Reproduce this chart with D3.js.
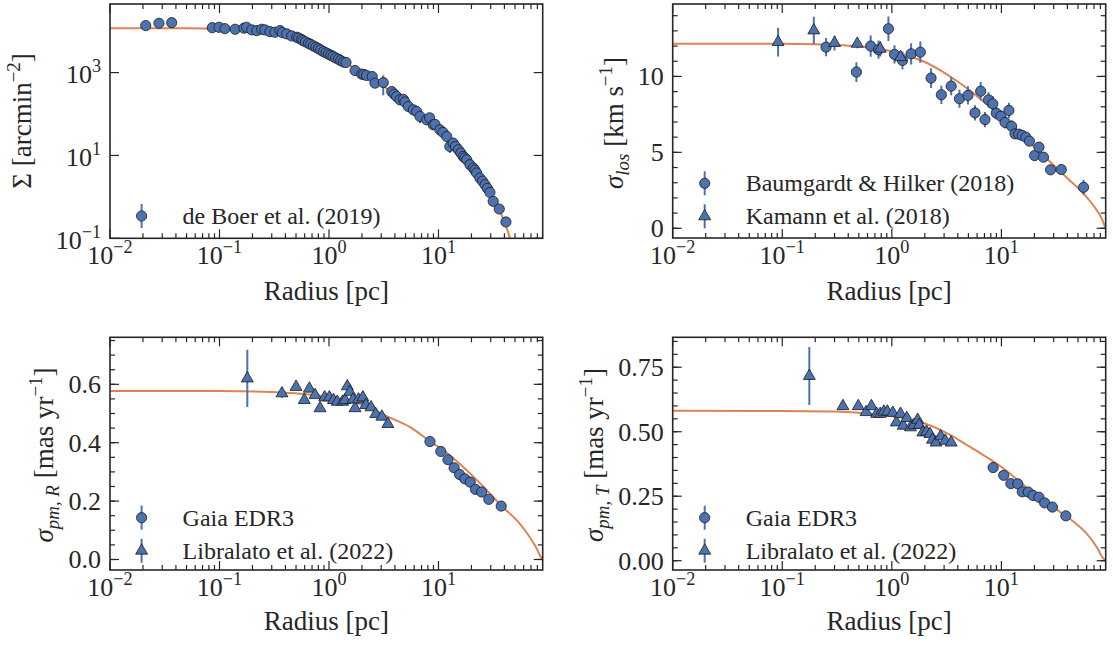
<!DOCTYPE html>
<html><head><meta charset="utf-8">
<script src="https://cdn.jsdelivr.net/npm/d3@7"></script>
<style>
body{margin:0;background:#fff}
svg{display:block}
text{font-family:"Liberation Serif","Times New Roman",serif;fill:#262626}
</style>
</head><body>
<svg id="chart" width="1113" height="646"></svg>
<script>
// ---------------- DATA ----------------
const xMajorTicks = [0.01, 0.1, 1, 10];
const xMax = 89.5;

// Panel 1: surface density (de Boer et al. 2019)
const boerR = [0.0212,0.0280,0.0366,0.0859,0.0989,0.112,0.139,0.167,0.177,0.197,0.219,0.243,0.260,0.289,0.321,0.357,0.375,0.411,0.456,0.507,0.53,0.56,0.58,0.61,0.65,0.68,0.72,0.76,0.80,0.84,0.89,0.94,0.99,1.04,1.09,1.15,1.22,1.28,1.35,1.43,1.73,1.99,2.08,2.2,2.48,2.63,3.13,3.74,3.94,4.15,4.45,4.78,4.94,5.30,5.89,6.32,6.78,7.80,8.30,8.97,9.3,10.3,11.0,11.9,12.7,13.6,14.3,15.2,16.0,16.8,17.4,18.1,19.4,20.8,21.5,22.3,23.9,25.2,26.6,28.0,29.5,31.6,35.9,41.3];
const boerS = [13600,15500,16000,12100,12400,11500,11100,11800,12400,10700,10300,11100,10700,9720,9400,10300,9200,8570,7660,7130,6800,6300,5900,5500,5100,4800,4400,4100,3800,3500,3200,3000,2800,2600,2450,2250,2100,1950,1800,1750,1120,915,900,850,800,555,574,348,300,264,220,226,194,152,126,115,87,72.4,81,54.9,56,41.6,36,28.7,16.5,19.9,16.5,13.7,11.5,9.46,8.7,7.87,5.97,4.97,4.4,3.77,2.85,2.4,1.97,1.6,1.28,0.78,0.51,0.248];
const boerErr = [0,0,3000,0,0,0,0,0,0,0,0,0,0,0,0,0,0,0,0,0,0,0,0,0,0,0,0,0,0,0,0,0,0,0,0,0,0,0,0,0,0,0,0,0,0,0,290,0,0,0,0,0,0,0,0,0,27,0,0,0,0,0,0,0,5,0,0,0,0,0,0,0,0,0,0,0,0,0,0,0,0,0,0,0];
const sigmaModelR = [0.01,0.05,0.1,0.2,0.3,0.4,0.5,0.7,1,1.5,2,3,4,5,7,10,15,20,25,30,35,40,45,50];
const sigmaModel  = [11800,11750,11500,10800,9900,8700,7500,5000,2900,1550,1000,520,290,180,88,41,14,5.4,2.4,1.15,0.56,0.25,0.1,0.03];

// Panel 2: line-of-sight dispersion
const bhR   = [0.251,0.475,0.641,0.755,0.931,1.057,1.25,1.50,1.82,2.28,2.83,3.48,4.14,4.95,5.74,6.47,7.08,7.63,8.34,8.98,9.89,10.8,11.7,12.4,13.3,14.4,15.5,16.7,18.0,20.1,22.0,24.2,28.1,35.2,56.2];
const bhV   = [11.93,10.29,12.0,11.76,13.14,11.45,11.05,11.49,11.6,9.89,8.79,9.36,8.53,8.75,7.6,9.03,7.16,8.46,8.2,7.58,7.38,6.97,7.76,6.72,6.22,6.2,6.11,6.0,5.74,4.79,5.34,4.68,3.85,3.87,2.7];
const bhErr = [0.6,0.65,0.7,0.6,0.8,0.6,0.6,0.7,0.7,0.65,0.6,0.6,0.6,0.6,0.5,0.6,0.5,0.5,0.5,0.4,0.4,0.4,0.5,0.4,0.3,0.3,0.3,0.3,0.3,0.3,0.3,0.3,0.3,0.3,0.5];
const kamR   = [0.0916,0.194,0.300,0.483,0.783,1.20];
const kamV   = [12.26,13.03,12.2,12.15,11.82,11.27];
const kamErr = [0.95,0.9,0.5,0.3,0.5,0.4];
const losModelR = [0.01,0.1,0.2,0.3,0.5,0.7,1,1.5,2,3,4,5,7,10,15,20,25,30,40,50,60,70,78,84,88,89.5];
const losModel  = [12.16,12.15,12.12,12.08,11.98,11.85,11.65,11.3,10.95,10.25,9.65,9.15,8.3,7.35,6.2,5.35,4.7,4.15,3.3,2.65,2.05,1.45,0.95,0.5,0.12,0];

// Panel 3: radial proper-motion dispersion
const gaiaRR = [8.36,10.5,12.2,13.9,15.6,17.4,19.5,21.8,24.8,28.8,37.4];
const gaiaRV = [0.404,0.370,0.342,0.314,0.291,0.276,0.265,0.240,0.231,0.206,0.183];
const gaiaRErr = [0.006,0.006,0.006,0.006,0.006,0.006,0.006,0.006,0.006,0.006,0.006];
const libRR = [0.1795,0.372,0.50,0.595,0.662,0.746,0.829,0.914,1.007,1.10,1.19,1.33,1.40,1.47,1.55,1.66,1.73,1.86,2.04,2.17,2.42,2.67,3.04,3.45];
const libRV = [0.62,0.569,0.591,0.546,0.585,0.563,0.518,0.555,0.555,0.546,0.540,0.540,0.546,0.593,0.574,0.548,0.518,0.548,0.555,0.529,0.521,0.498,0.489,0.464];
const libRErr = [0.098,0.015,0.01,0.01,0.01,0.01,0.01,0.01,0.01,0.01,0.01,0.01,0.01,0.01,0.01,0.01,0.01,0.01,0.01,0.01,0.01,0.01,0.01,0.01];
const pmRModelR = [0.01,0.1,0.3,0.5,0.8,1.2,2,3.4,5.7,8.4,12.2,17.8,25.6,37.8,54,63,73,80,85,89.5];
const pmRModel  = [0.577,0.577,0.574,0.569,0.562,0.552,0.530,0.490,0.450,0.404,0.362,0.308,0.250,0.183,0.127,0.095,0.059,0.033,0.012,0];

// Panel 4: tangential proper-motion dispersion
const gaiaTR = [8.40,10.5,12.2,14.1,15.5,17.6,19.4,22.0,24.8,29.2,38.7];
const gaiaTV = [0.361,0.331,0.299,0.298,0.267,0.266,0.253,0.246,0.224,0.208,0.174];
const gaiaTErr = [0.006,0.006,0.006,0.006,0.006,0.006,0.006,0.006,0.006,0.006,0.006];
const libTR = [0.1766,0.358,0.494,0.582,0.651,0.728,0.784,0.845,0.910,1.02,1.10,1.20,1.27,1.37,1.48,1.59,1.72,1.78,1.92,2.07,2.23,2.35,2.53,2.79,3.07,3.48];
const libTV = [0.716,0.599,0.599,0.576,0.599,0.569,0.569,0.578,0.578,0.573,0.536,0.569,0.523,0.553,0.517,0.526,0.546,0.526,0.497,0.500,0.491,0.469,0.458,0.482,0.465,0.458];
const libTErr = [0.112,0.015,0.01,0.01,0.01,0.01,0.01,0.01,0.01,0.01,0.01,0.01,0.01,0.01,0.01,0.01,0.01,0.01,0.01,0.01,0.01,0.01,0.01,0.01,0.01,0.01];
const pmTModelR = [0.01,0.1,0.3,0.5,0.8,1.2,2,3.4,5,7.1,10,15,22,31.4,46,58,67,76,82,89.5];
const pmTModel  = [0.581,0.580,0.578,0.574,0.566,0.555,0.532,0.488,0.445,0.405,0.363,0.303,0.245,0.200,0.150,0.112,0.080,0.045,0.018,0];

// ---------------- STYLE ----------------
const BLUE = "#4C72B0", ORANGE = "#DD8452", EDGE = "#1a1a1a", AX = "#262626";
const TICK_FS = 26, LABEL_FS = 27, LEG_FS = 24;

const svg = d3.select("#chart");
svg.append("rect").attr("width",1113).attr("height",646).attr("fill","#fff");

function rich(sel, parts, fs){
  let shift = 0;
  parts.forEach(p => {
    const [t, mode, it] = p;
    let target = 0, size = fs;
    if (mode === "sup"){ target = -0.42*fs; size = 0.7*fs; }
    else if (mode === "sub"){ target = 0.24*fs; size = 0.7*fs; }
    const ts = sel.append("tspan").text(t).attr("font-size", size).attr("dy", target - shift);
    if (it) ts.attr("font-style","italic");
    shift = target;
  });
}
function powParts(v){
  const e = Math.round(Math.log10(v));
  return [["10"],[(e<0?"\u2212":"")+Math.abs(e),"sup"]];
}

const zip = (a,b) => a.map((d,i)=>[d,b[i]]);
let clipId = 0;

function drawPanel(cfg){
  const g = svg.append("g");
  const x = d3.scaleLog().domain([0.01, xMax]).range([cfg.x0, cfg.x1]);
  const y = (cfg.ylog ? d3.scaleLog() : d3.scaleLinear()).domain(cfg.ydom).range([cfg.y1, cfg.y0]);
  const id = "clip" + (clipId++);
  svg.append("clipPath").attr("id", id).append("rect")
    .attr("x", cfg.x0).attr("y", cfg.y0).attr("width", cfg.x1-cfg.x0).attr("height", cfg.y1-cfg.y0);
  const plot = g.append("g").attr("clip-path", `url(#${id})`);

  // model curve
  const line = d3.line().x(d=>x(d[0])).y(d=>y(Math.max(d[1], cfg.ylog?1e-6:-1))).curve(d3.curveMonotoneX);
  plot.append("path").datum(zip(cfg.modelR, cfg.modelV))
    .attr("d", line).attr("fill","none").attr("stroke",ORANGE).attr("stroke-width",2);

  // series
  cfg.series.forEach(s => {
    const pts = s.r.map((r,i)=>({r, v:s.v[i], e:s.e[i]}));
    plot.append("g").selectAll("line").data(pts.filter(d=>d.e>0)).join("line")
      .attr("x1",d=>x(d.r)).attr("x2",d=>x(d.r))
      .attr("y1",d=>y(d.v+d.e)).attr("y2",d=>y(Math.max(d.v-d.e, cfg.ylog?1e-6:-10)))
      .attr("stroke",BLUE).attr("stroke-width",2);
  });
  cfg.series.forEach(s => {
    const pts = s.r.map((r,i)=>({r, v:s.v[i]}));
    const sym = d3.symbol().type(s.shape==="tri"?d3.symbolTriangle:d3.symbolCircle).size(s.shape==="tri"?62:82);
    plot.append("g").selectAll("path").data(pts).join("path")
      .attr("transform",d=>`translate(${x(d.r)},${y(d.v)})`)
      .attr("d", sym).attr("fill",BLUE).attr("stroke",EDGE).attr("stroke-width",0.8);
  });

  // frame
  g.append("rect").attr("x",cfg.x0).attr("y",cfg.y0).attr("width",cfg.x1-cfg.x0).attr("height",cfg.y1-cfg.y0)
    .attr("fill","none").attr("stroke",AX).attr("stroke-width",1.6);

  // x ticks
  const xt = x.ticks().filter(v=>v>=0.01 && v<=xMax);
  xt.forEach(v => {
    const isMajor = xMajorTicks.some(m=>Math.abs(m-v)/m<1e-6);
    const L = isMajor ? 9 : 5;
    const px = x(v);
    g.append("line").attr("x1",px).attr("x2",px).attr("y1",cfg.y1).attr("y2",cfg.y1-L).attr("stroke",AX).attr("stroke-width",1.2);
    g.append("line").attr("x1",px).attr("x2",px).attr("y1",cfg.y0).attr("y2",cfg.y0+L).attr("stroke",AX).attr("stroke-width",1.2);
  });
  xMajorTicks.forEach(v => {
    const t = g.append("text").attr("x", x(v)).attr("y", cfg.y1+26).attr("text-anchor","middle").attr("font-size",TICK_FS);
    rich(t, powParts(v), TICK_FS);
  });

  // y ticks
  cfg.yMinor.forEach(v => {
    const py = y(v);
    g.append("line").attr("x1",cfg.x0).attr("x2",cfg.x0+5).attr("y1",py).attr("y2",py).attr("stroke",AX).attr("stroke-width",1.2);
    g.append("line").attr("x1",cfg.x1).attr("x2",cfg.x1-5).attr("y1",py).attr("y2",py).attr("stroke",AX).attr("stroke-width",1.2);
  });
  cfg.yMajor.forEach((v,i) => {
    const py = y(v);
    g.append("line").attr("x1",cfg.x0).attr("x2",cfg.x0+9).attr("y1",py).attr("y2",py).attr("stroke",AX).attr("stroke-width",1.2);
    g.append("line").attr("x1",cfg.x1).attr("x2",cfg.x1-9).attr("y1",py).attr("y2",py).attr("stroke",AX).attr("stroke-width",1.2);
    const t = g.append("text").attr("x", cfg.x0-9).attr("y", py + 0.34*TICK_FS + (cfg.ylog?2:0))
      .attr("text-anchor","end").attr("font-size",TICK_FS);
    if (cfg.ylog) rich(t, powParts(v), TICK_FS); else t.text(cfg.yLabels[i]);
  });

  // axis labels
  g.append("text").attr("x",(cfg.x0+cfg.x1)/2).attr("y",cfg.xlabY).attr("text-anchor","middle")
    .attr("font-size",LABEL_FS).text("Radius [pc]");
  const yl = g.append("text").attr("transform",`translate(${cfg.ylabX},${cfg.ylabCY}) rotate(-90)`)
    .attr("text-anchor","middle").attr("font-size",LABEL_FS);
  rich(yl, cfg.ylabParts, LABEL_FS);

  // legend
  cfg.legend.forEach((L,i) => {
    const ly = cfg.legY + i*33;
    const lx = cfg.legX;
    g.append("line").attr("x1",lx).attr("x2",lx).attr("y1",ly-12).attr("y2",ly+12).attr("stroke",BLUE).attr("stroke-width",2);
    const sym = d3.symbol().type(L.shape==="tri"?d3.symbolTriangle:d3.symbolCircle).size(L.shape==="tri"?62:82);
    g.append("path").attr("transform",`translate(${lx},${ly})`).attr("d",sym).attr("fill",BLUE).attr("stroke",EDGE).attr("stroke-width",0.8);
    g.append("text").attr("x", lx+41).attr("y", ly+0.34*LEG_FS).attr("font-size",LEG_FS).text(L.label);
  });
}

const minorRange = (a,b,s) => d3.range(Math.round(a/s), Math.round(b/s)+1).map(k=>+(k*s).toFixed(4));

drawPanel({
  x0:110, x1:542.7, y0:4, y1:238.3, ylog:true, ydom:[0.1, 45200],
  yMajor:[0.1,10,1000], yMinor:[],
  modelR:sigmaModelR, modelV:sigmaModel,
  series:[{r:boerR, v:boerS, e:boerErr, shape:"circle"}],
  xlabY:300, ylabX:31, ylabCY:121,
  ylabParts:[["\u03A3 [arcmin"],["\u22122","sup"],["]"]],
  legX:141.6, legY:216, legend:[{shape:"circle", label:"de Boer et al. (2019)"}]
});
drawPanel({
  x0:672.7, x1:1105.7, y0:4, y1:238, ylog:false, ydom:[-0.64, 14.77],
  yMajor:[0,5,10], yLabels:["0","5","10"], yMinor:minorRange(0,14,1),
  modelR:losModelR, modelV:losModel,
  series:[{r:bhR, v:bhV, e:bhErr, shape:"circle"},{r:kamR, v:kamV, e:kamErr, shape:"tri"}],
  xlabY:300, ylabX:623, ylabCY:123,
  ylabParts:[["\u03C3",null,true],["los","sub",true],[" [km s"],["\u22121","sup"],["]"]],
  legX:704.7, legY:183.3, legend:[{shape:"circle", label:"Baumgardt & Hilker (2018)"},{shape:"tri", label:"Kamann et al. (2018)"}]
});
drawPanel({
  x0:110, x1:542.7, y0:337.3, y1:570, ylog:false, ydom:[-0.036, 0.761],
  yMajor:[0,0.2,0.4,0.6], yLabels:["0.0","0.2","0.4","0.6"], yMinor:minorRange(0,0.75,0.05),
  modelR:pmRModelR, modelV:pmRModel,
  series:[{r:gaiaRR, v:gaiaRV, e:gaiaRErr, shape:"circle"},{r:libRR, v:libRV, e:libRErr, shape:"tri"}],
  xlabY:630, ylabX:53, ylabCY:455,
  ylabParts:[["\u03C3",null,true],["pm, R","sub",true],[" [mas yr"],["\u22121","sup"],["]"]],
  legX:141.6, legY:517.7, legend:[{shape:"circle", label:"Gaia EDR3"},{shape:"tri", label:"Libralato et al. (2022)"}]
});
drawPanel({
  x0:672.7, x1:1105.7, y0:337.3, y1:570, ylog:false, ydom:[-0.036, 0.866],
  yMajor:[0,0.25,0.5,0.75], yLabels:["0.00","0.25","0.50","0.75"], yMinor:minorRange(0,0.85,0.05),
  modelR:pmTModelR, modelV:pmTModel,
  series:[{r:gaiaTR, v:gaiaTV, e:gaiaTErr, shape:"circle"},{r:libTR, v:libTV, e:libTErr, shape:"tri"}],
  xlabY:630, ylabX:603, ylabCY:455,
  ylabParts:[["\u03C3",null,true],["pm, T","sub",true],[" [mas yr"],["\u22121","sup"],["]"]],
  legX:704.7, legY:517.7, legend:[{shape:"circle", label:"Gaia EDR3"},{shape:"tri", label:"Libralato et al. (2022)"}]
});
</script>
</body></html>
